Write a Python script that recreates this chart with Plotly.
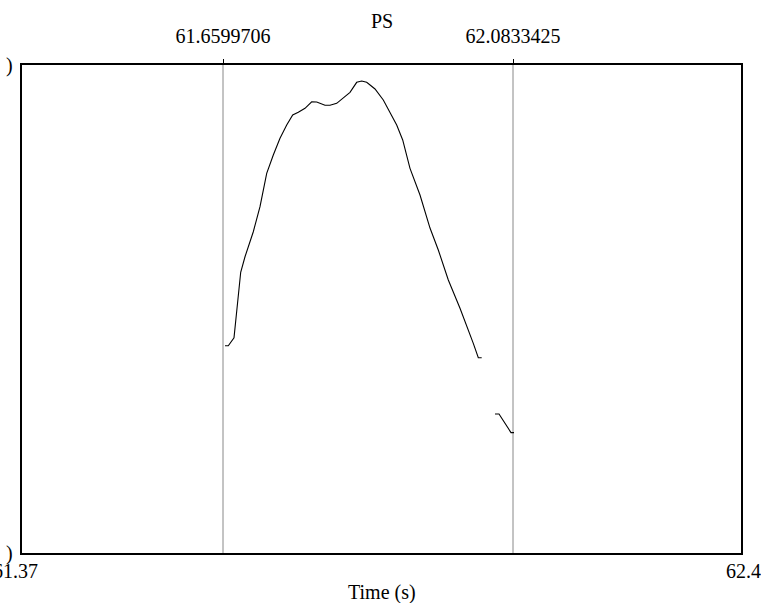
import plotly.graph_objects as go

# Pitch contour: time (s) and pitch (Hz); None marks the unvoiced gap
pitch_time = [61.66289, 61.66771, 61.67603, 61.68581, 61.69209, 61.70421, 61.71399, 61.72377,
              61.73341, 61.74319, 61.75297, 61.76173, 61.76990, 61.77969, 61.78947, 61.79677,
              61.80888, 61.81618, 61.82596, 61.83560, 61.84538, 61.85516, 61.86246, 61.86976,
              61.88188, 61.89400, 61.90378, 61.91356, 61.92232, 61.92816, 61.93298, 61.94758,
              61.96218, 61.97430, 61.98160, 61.98890, 62.00597, 62.01575, 62.02539, 62.03269,
              62.03765,
              None,
              62.05707, 62.06291, 62.08043, 62.08481]
pitch_hz = [255.5, 255.5, 262.5, 319.5, 333.0, 354.8, 376.6, 405.7,
            421.6, 436.2, 447.7, 456.5, 458.8, 462.3, 468.0, 467.8,
            464.9, 464.9, 466.6, 471.5, 476.2, 484.9, 486.1, 484.9,
            479.1, 469.5, 457.9, 447.7, 434.7, 420.1, 410.0, 386.8,
            358.0, 338.9, 325.8, 312.8, 288.1, 273.6, 257.6, 245.1,
            245.1,
            None,
            196.1, 196.1, 179.8, 179.8]

x_range = [61.36653, 62.41621]
y_range = [75, 500]
bottom_labels = ["61.37", "62.4"]
top_ticks = [61.6599706, 62.0833425]
top_labels = ["61.6599706", "62.0833425"]
title = "PS"
x_title = "Time (s)"

FONT = "Liberation Serif, Times New Roman, serif"
FS = 20
fig = go.Figure()

for t in top_ticks:
    fig.add_trace(go.Scatter(x=[t, t], y=y_range, mode="lines",
                             line=dict(color="#888888", width=1), showlegend=False, hoverinfo="skip"))

fig.add_trace(go.Scatter(x=pitch_time, y=pitch_hz, mode="lines",
                         line=dict(color="black", width=1.1), connectgaps=False,
                         showlegend=False))
fig.add_trace(go.Scatter(x=top_ticks, y=[None, None], xaxis="x2", showlegend=False))

annotations = [
    dict(text=title, x=0.5, y=1, xref="paper", yref="paper", yshift=44,
         showarrow=False, font=dict(size=FS, family=FONT), yanchor="middle"),
    dict(text=x_title, x=0.5, y=0, xref="paper", yref="paper", yshift=-39,
         showarrow=False, font=dict(size=FS, family=FONT), yanchor="middle"),
    dict(text=")", x=0, y=1, xref="paper", yref="paper", xshift=-7,
         showarrow=False, xanchor="right", yanchor="middle", font=dict(size=FS, family=FONT)),
    dict(text=")", x=0, y=0, xref="paper", yref="paper", xshift=-7,
         showarrow=False, xanchor="right", yanchor="middle", font=dict(size=FS, family=FONT)),
    # bottom edge labels: left one runs off the page edge as in the original
    dict(text=bottom_labels[0], x=0, y=0, xref="paper", yref="paper", xshift=18, yshift=-18,
         showarrow=False, xanchor="right", yanchor="middle", font=dict(size=FS, family=FONT)),
    dict(text=bottom_labels[1], x=1, y=0, xref="paper", yref="paper", xshift=2, yshift=-18,
         showarrow=False, xanchor="center", yanchor="middle", font=dict(size=FS, family=FONT)),
]

fig.update_layout(
    width=761, height=603,
    margin=dict(l=22, r=20, t=65, b=50),
    paper_bgcolor="white", plot_bgcolor="white",
    font=dict(family=FONT, size=FS, color="black"),
    xaxis=dict(range=x_range, showgrid=False, zeroline=False, showline=True, mirror=True,
               linecolor="black", linewidth=1.5, showticklabels=False, ticks="",
               automargin=False),
    xaxis2=dict(range=x_range, overlaying="x", side="top", showgrid=False, zeroline=False,
                tickmode="array", tickvals=top_ticks, ticktext=top_labels,
                ticks="outside", ticklen=5, tickcolor="black", showline=False,
                automargin=False, ticklabelstandoff=8),
    yaxis=dict(range=y_range, showgrid=False, zeroline=False, showline=True, mirror=True,
               linecolor="black", linewidth=1.5, showticklabels=False, ticks="",
               automargin=False),
    annotations=annotations,
)

fig.write_html("out.html")
